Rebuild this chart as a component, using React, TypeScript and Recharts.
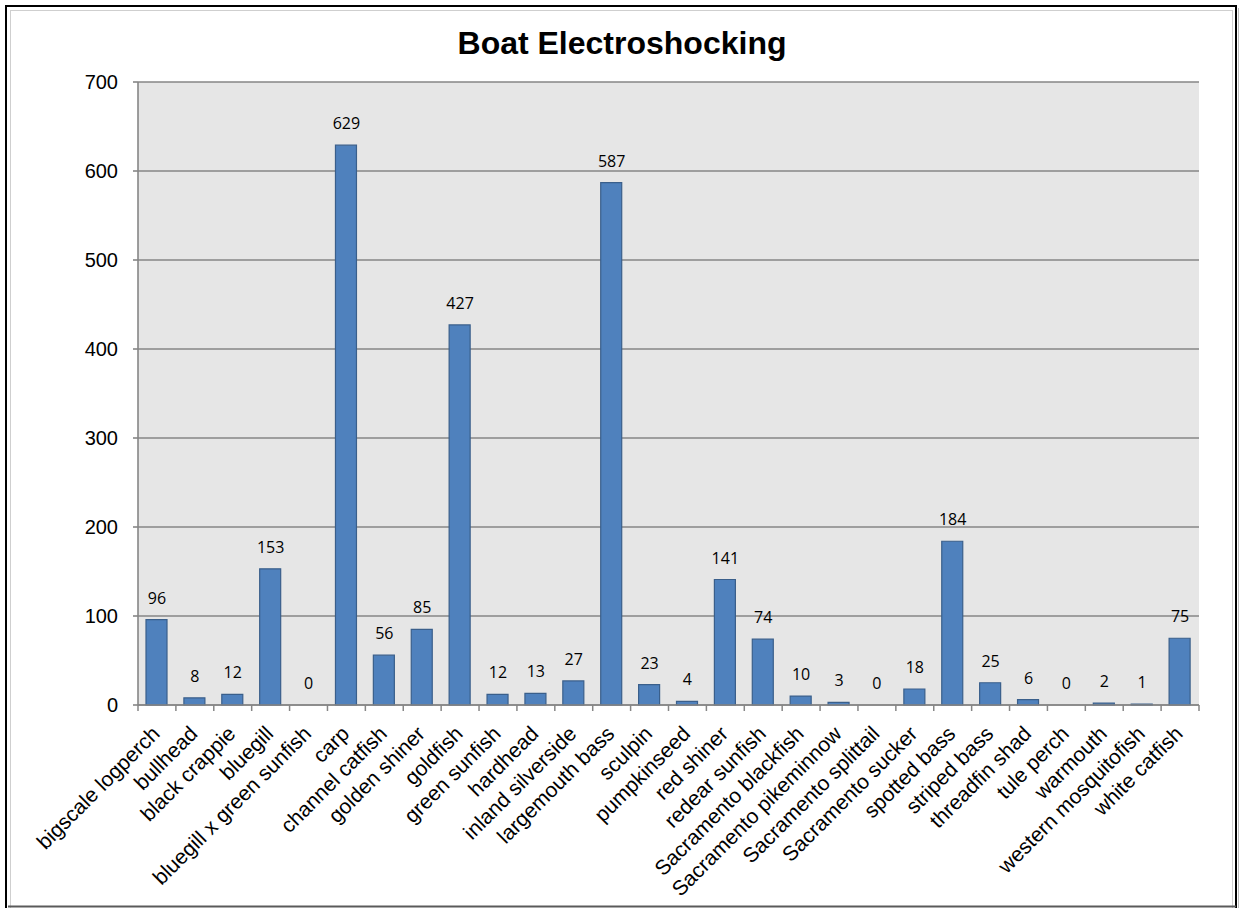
import { Bar, CartesianGrid, ComposedChart, LabelList, Line, XAxis, YAxis } from 'recharts';

// Fish counts per species from boat electroshocking
const species = [
  'bigscale logperch', 'bullhead', 'black crappie', 'bluegill', 'bluegill x green sunfish',
  'carp', 'channel catfish', 'golden shiner', 'goldfish', 'green sunfish', 'hardhead',
  'inland silverside', 'largemouth bass', 'sculpin', 'pumpkinseed', 'red shiner',
  'redear sunfish', 'Sacramento blackfish', 'Sacramento pikeminnow', 'Sacramento splittail',
  'Sacramento sucker', 'spotted bass', 'striped bass', 'threadfin shad', 'tule perch',
  'warmouth', 'western mosquitofish', 'white catfish'
];
const counts = [
  96, 8, 12, 153, 0, 629, 56, 85, 427, 12, 13, 27, 587, 23, 4, 141, 74, 10, 3, 0, 18, 184,
  25, 6, 0, 2, 1, 75
];
const yTicks = [0, 100, 200, 300, 400, 500, 600, 700];

const data = species.map((name, i) => ({ name, count: counts[i] }));

const W = 1240;
const H = 908;
const margin = { top: 82, right: 41, bottom: 13, left: 78 };
const Y_AXIS_W = 60;
const X_AXIS_H = 190;
const plotW = W - margin.left - margin.right - Y_AXIS_W;
const band = plotW / species.length;

const font = '"Liberation Sans", Arial, sans-serif';
const axisGray = '#868686';

// Category label plus the boundary tick marks drawn between categories
const SpeciesTick = (props: any) => {
  const { x, y, payload, index } = props;
  const left = x - band / 2;
  const right = x + band / 2;
  const ax = x + 4;
  const ay = y + 30;
  return (
    <g>
      <line x1={left} y1={y} x2={left} y2={y + 6} stroke={axisGray} strokeWidth={1.5} />
      {index === species.length - 1 && (
        <line x1={right} y1={y} x2={right} y2={y + 6} stroke={axisGray} strokeWidth={1.5} />
      )}
      <text
        x={ax}
        y={ay}
        transform={`rotate(-45, ${ax}, ${ay})`}
        textAnchor="end"
        fontFamily={font}
        fontSize={21}
        fill="#000"
      >
        {payload.value}
      </text>
    </g>
  );
};

const App = () => {
  return (
    <div style={{ position: 'absolute', left: 0, top: 0, width: W, height: H, background: '#fff' }}>
      <svg width={W} height={H} style={{ position: 'absolute', left: 0, top: 0 }}>
        <rect x={6} y={6} width={1230} height={H + 20} fill="none" stroke="#000" strokeWidth={2} />
        <rect x={10.5} y={10.5} width={1222} height={H} fill="none" stroke="#cfcfcf" />
        <line x1={1238.5} y1={8} x2={1238.5} y2={H} stroke="#bdbdbd" />
        <line x1={8} y1={906.5} x2={1236} y2={906.5} stroke="#5a5a5a" strokeWidth={2} />
        <text x={622} y={54} textAnchor="middle" fontFamily={font} fontWeight="bold" fontSize={32} fill="#000">
          Boat Electroshocking
        </text>
      </svg>
      <div style={{ position: 'absolute', left: 0, top: 0 }}>
        <ComposedChart width={W} height={H} data={data} margin={margin}>
          <CartesianGrid vertical={false} stroke={axisGray} strokeWidth={1.6} fill="#e6e6e6" fillOpacity={1} />
          <XAxis
            dataKey="name"
            interval={0}
            height={X_AXIS_H}
            axisLine={{ stroke: axisGray, strokeWidth: 1.6 }}
            tickLine={false}
            tickSize={0}
            tickMargin={0}
            tick={<SpeciesTick />}
          />
          <YAxis
            width={Y_AXIS_W}
            domain={[0, 700]}
            ticks={yTicks}
            interval={0}
            axisLine={{ stroke: axisGray, strokeWidth: 1.6 }}
            tickLine={{ stroke: axisGray, strokeWidth: 1.6 }}
            tickSize={5}
            tickMargin={15}
            tick={{ fontFamily: font, fontSize: 20, fill: '#000' }}
          />
          <Bar dataKey="count" fill="#4f81bd" stroke="#3a5f8b" strokeWidth={1.2} barSize={21} isAnimationActive={false} />
          {/* invisible line carries the value labels so zero counts get one too */}
          <Line
            dataKey="count"
            stroke="none"
            dot={false}
            activeDot={false}
            legendType="none"
            isAnimationActive={false}
          >
            <LabelList
              dataKey="count"
              position="top"
              offset={16}
              style={{ fontFamily: '"Open Sans", sans-serif', fontSize: 16, fill: '#000' }}
            />
          </Line>
        </ComposedChart>
      </div>
    </div>
  );
};

export default App;
